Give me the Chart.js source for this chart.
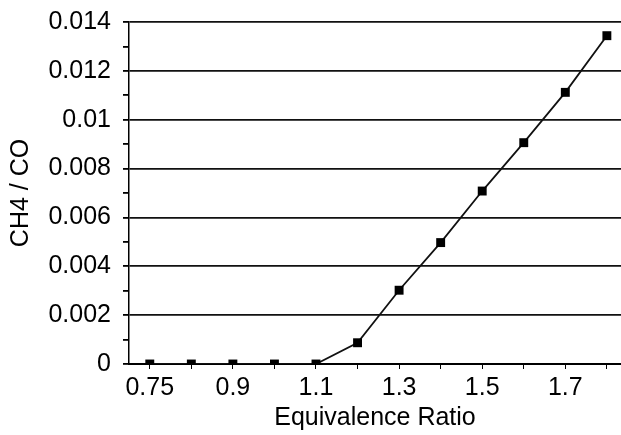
<!DOCTYPE html>
<html>
<head>
<meta charset="utf-8">
<script src="https://cdn.jsdelivr.net/npm/chart.js@4"></script>
<style>
  html, body { margin: 0; padding: 0; background: #fff; }
  #wrap { width: 621px; height: 435px; }
</style>
</head>
<body>
<div id="wrap"><canvas id="chart" width="621" height="435"></canvas></div>
<script>
// categories on the x axis (evenly spaced, like a category chart)
const equivRatio = ["0.75", "0.8", "0.9", "1.0", "1.1", "1.2", "1.3", "1.4", "1.5", "1.6", "1.7", "1.8"];
// which categories get a label
const shownLabels = ["0.75", "0.9", "1.1", "1.3", "1.5", "1.7"];
// CH4 / CO values
const ch4co = [0, 0, 0, 0, 0, 0.00087, 0.00302, 0.00497, 0.00708, 0.00906, 0.01112, 0.01344];
const yTicks = ["0", "0.002", "0.004", "0.006", "0.008", "0.01", "0.012", "0.014"];

const ink = "#000";
const font = { family: "'Liberation Sans', Arial, sans-serif", size: 25 };

const points = ch4co.map((v, i) => ({ x: i, y: v }));

new Chart(document.getElementById("chart"), {
  type: "line",
  data: {
    datasets: [{
      data: points,
      borderColor: "#111",
      borderWidth: 1.8,
      backgroundColor: ink,
      pointStyle: "rect",
      pointRadius: 6.3,
      pointBorderWidth: 0,
      tension: 0
    }]
  },
  options: {
    responsive: false,
    animation: false,
    layout: { autoPadding: false, padding: { top: 22, right: 0, left: 0, bottom: 0 } },
    plugins: { legend: { display: false }, tooltip: { enabled: false } },
    scales: {
      x: {
        type: "linear",
        min: -0.5,
        max: 11.34,
        afterFit: s => { s.height = 71; s.paddingLeft = 0; s.paddingRight = 0; },
        afterBuildTicks: s => {
          s.ticks = equivRatio.map((_, i) => ({ value: i }));
        },
        border: { color: ink, width: 2 },
        grid: {
          drawOnChartArea: false,
          tickLength: 5,
          tickColor: ink
        },
        ticks: {
          color: ink,
          font: font,
          padding: 4,
          autoSkip: false,
          maxRotation: 0,
          callback: v => {
            const lab = equivRatio[v];
            return shownLabels.includes(lab) ? lab : "";
          }
        },
        title: {
          display: true,
          text: "Equivalence Ratio",
          color: ink,
          font: font,
          padding: { top: 0, bottom: 2 }
        }
      },
      y: {
        min: 0,
        max: 0.014,
        afterFit: s => { s.width = 129; s.paddingTop = 0; s.paddingBottom = 0; },
        afterBuildTicks: s => {
          const t = [];
          for (let k = 0; k <= 14; k++) t.push({ value: k * 0.001 });
          s.ticks = t;
        },
        border: { color: ink, width: 1.5 },
        grid: {
          color: c => (c.index % 2 === 0 ? "#111" : "rgba(0,0,0,0)"),
          lineWidth: 1.8,
          tickLength: 6,
          tickColor: ink
        },
        ticks: {
          color: ink,
          font: font,
          padding: 12,
          autoSkip: false,
          callback: (v, i) => (i % 2 === 0 ? yTicks[i / 2] : "")
        },
        title: {
          display: true,
          text: "CH4 / CO",
          color: ink,
          font: font,
          padding: { top: 6, bottom: 0 }
        }
      }
    }
  }
});
</script>
</body>
</html>
